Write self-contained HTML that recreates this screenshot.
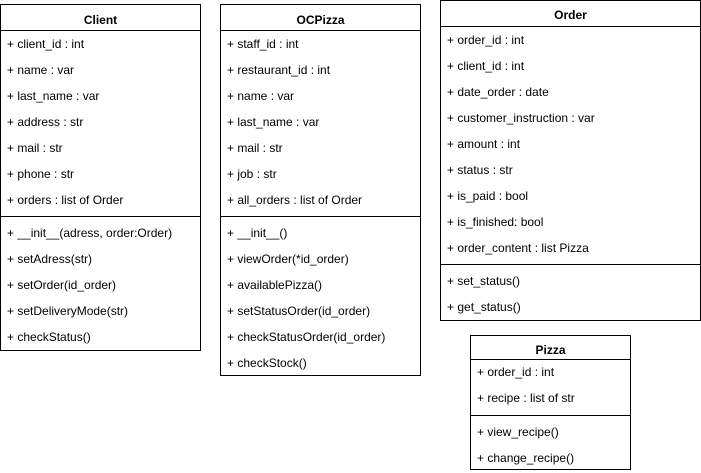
<!DOCTYPE html>
<html><head><meta charset="utf-8"><style>
body{margin:0;width:701px;height:473px;background:#fff;position:relative;overflow:hidden;font-family:"Liberation Sans",Arial,sans-serif;font-size:12px;color:#000}
.b{position:absolute;border:1px solid #000;box-sizing:border-box;background:#fff}
.l{position:absolute;left:0;right:0;height:0;border-top:1px solid #000}
.h{position:absolute;left:0;right:0;text-align:center;font-weight:bold;line-height:16px;margin-top:-1px}
.t{position:absolute;left:6px;line-height:16px;white-space:nowrap;margin-top:-1px}
</style></head><body>

<div class="b" style="left:0;top:4px;width:201px;height:347px">
<div class="h" style="top:8px">Client</div>
<div class="l" style="top:25px"></div>
<div class="t" style="top:32px">+ client_id : int</div>
<div class="t" style="top:58px">+ name : var</div>
<div class="t" style="top:84px">+ last_name : var</div>
<div class="t" style="top:110px">+ address : str</div>
<div class="t" style="top:136px">+ mail : str</div>
<div class="t" style="top:162px">+ phone : str</div>
<div class="t" style="top:188px">+ orders : list of Order</div>
<div class="l" style="top:211px"></div>
<div class="t" style="top:221px">+ __init__(adress, order:Order)</div>
<div class="t" style="top:247px">+ setAdress(str)</div>
<div class="t" style="top:273px">+ setOrder(id_order)</div>
<div class="t" style="top:299px">+ setDeliveryMode(str)</div>
<div class="t" style="top:325px">+ checkStatus()</div>
</div>

<div class="b" style="left:220px;top:4px;width:201px;height:372px">
<div class="h" style="top:8px">OCPizza</div>
<div class="l" style="top:25px"></div>
<div class="t" style="top:32px">+ staff_id : int</div>
<div class="t" style="top:58px">+ restaurant_id : int</div>
<div class="t" style="top:84px">+ name : var</div>
<div class="t" style="top:110px">+ last_name : var</div>
<div class="t" style="top:136px">+ mail : str</div>
<div class="t" style="top:162px">+ job : str</div>
<div class="t" style="top:188px">+ all_orders : list of Order</div>
<div class="l" style="top:211px"></div>
<div class="t" style="top:221px">+ __init__()</div>
<div class="t" style="top:247px">+ viewOrder(*id_order)</div>
<div class="t" style="top:273px">+ availablePizza()</div>
<div class="t" style="top:299px">+ setStatusOrder(id_order)</div>
<div class="t" style="top:325px">+ checkStatusOrder(id_order)</div>
<div class="t" style="top:351px">+ checkStock()</div>
</div>

<div class="b" style="left:440px;top:0;width:261px;height:321px">
<div class="h" style="top:7px">Order</div>
<div class="l" style="top:25px"></div>
<div class="t" style="top:32px">+ order_id : int</div>
<div class="t" style="top:58px">+ client_id : int</div>
<div class="t" style="top:84px">+ date_order : date</div>
<div class="t" style="top:110px">+ customer_instruction : var</div>
<div class="t" style="top:136px">+ amount : int</div>
<div class="t" style="top:162px">+ status : str</div>
<div class="t" style="top:188px">+ is_paid : bool</div>
<div class="t" style="top:214px">+ is_finished: bool</div>
<div class="t" style="top:240px">+ order_content : list Pizza</div>
<div class="l" style="top:263px"></div>
<div class="t" style="top:273px">+ set_status()</div>
<div class="t" style="top:299px">+ get_status()</div>
</div>

<div class="b" style="left:470px;top:335px;width:161px;height:135px">
<div class="h" style="top:7px">Pizza</div>
<div class="l" style="top:23px"></div>
<div class="t" style="top:29px">+ order_id : int</div>
<div class="t" style="top:55px">+ recipe : list of str</div>
<div class="l" style="top:79px"></div>
<div class="t" style="top:89px">+ view_recipe()</div>
<div class="t" style="top:115px">+ change_recipe()</div>
</div>

</body></html>
